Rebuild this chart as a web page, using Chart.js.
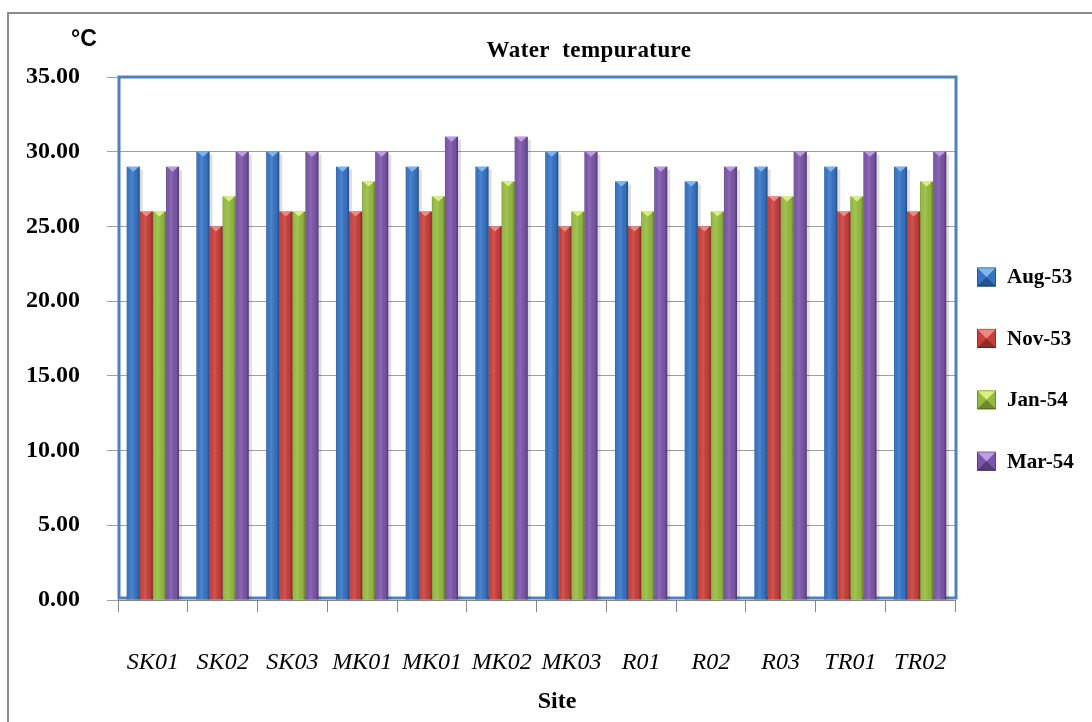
<!DOCTYPE html>
<html><head><meta charset="utf-8">
<script src="https://cdn.jsdelivr.net/npm/chart.js@4/dist/chart.umd.min.js"></script>
<style>html,body{margin:0;padding:0;background:#fff;overflow:hidden}#wrap{width:1092px;height:722px;position:relative}</style>
</head><body><div id="wrap"><canvas id="c" width="1092" height="722"></canvas></div>
<script>
// ---- data ----
const sites = ['SK01','SK02','SK03','MK01','MK01','MK02','MK03','R01','R02','R03','TR01','TR02'];
const seriesNames = ['Aug-53','Nov-53','Jan-54','Mar-54'];
const aug53 = [29,30,30,29,29,29,30,28,28,29,29,29];
const nov53 = [26,25,26,26,26,25,25,25,25,27,26,26];
const jan54 = [26,27,26,28,27,28,26,26,26,27,27,28];
const mar54 = [29,30,30,30,31,31,30,29,29,30,30,30];
const yMin = 0, yMax = 35, yStep = 5;
const chartTitle = 'Water  tempurature';
const yUnit = '°C';
const xTitle = 'Site';

// ---- styles ----
const serif = '"Liberation Serif","Times New Roman",serif';
const baseColors = ['#3673C3','#C73F3A','#95BB3F','#7B55A7'];
const capColors  = ['#7DB6F2','#F08780','#D9F07E','#BC9DE6'];
const darkColors = ['#24528F','#8E2A27','#6C8A2B','#563B7A'];
const seriesValues = [aug53, nov53, jan54, mar54];

const decor = {
  id: 'decor',
  beforeDraw(chart) {
    const ctx = chart.ctx;
    ctx.save();
    ctx.fillStyle = '#fff';
    ctx.fillRect(0, 0, chart.width, chart.height);
    ctx.strokeStyle = '#8c8c8c';
    ctx.lineWidth = 2;
    ctx.beginPath();
    ctx.moveTo(8, chart.height); ctx.lineTo(8, 13); ctx.lineTo(chart.width, 13);
    ctx.stroke();
    ctx.restore();
  },
  beforeDatasetsDraw(chart) {
    const a = chart.chartArea, ctx = chart.ctx;
    ctx.save();
    ctx.strokeStyle = '#4F81BD';
    ctx.lineWidth = 3;
    ctx.strokeRect(a.left + 1, a.top, a.right - a.left, a.bottom - a.top - 2);
    chart.data.datasets.forEach((ds, i) => {
      chart.getDatasetMeta(i).data.forEach(b => {
        const r = b.x + b.width / 2;
        ctx.fillStyle = 'rgba(0,0,0,0.13)';
        ctx.fillRect(r, b.y + 3, 3, b.base - b.y - 3);
      });
    });
    ctx.restore();
  },
  afterDatasetsDraw(chart) {
    const ctx = chart.ctx;
    ctx.save();
    chart.data.datasets.forEach((ds, i) => {
      chart.getDatasetMeta(i).data.forEach(b => {
        const w = b.width, l = b.x - w / 2, r = b.x + w / 2, t = b.y, bot = b.base;
        const g = ctx.createLinearGradient(l, 0, r, 0);
        g.addColorStop(0, 'rgba(0,0,0,0.25)');
        g.addColorStop(0.15, 'rgba(255,255,255,0.0)');
        g.addColorStop(0.4, 'rgba(255,255,255,0.12)');
        g.addColorStop(0.8, 'rgba(0,0,0,0.04)');
        g.addColorStop(1, 'rgba(0,0,0,0.35)');
        ctx.fillStyle = g;
        ctx.fillRect(l, t, w, bot - t);
        ctx.fillStyle = capColors[i];
        ctx.beginPath();
        ctx.moveTo(l + 1, t); ctx.lineTo(r - 1, t); ctx.lineTo(b.x, t + 5);
        ctx.closePath(); ctx.fill();
      });
    });
    ctx.restore();
  },
  afterDraw(chart) {
    const ctx = chart.ctx;
    ctx.save();
    ctx.fillStyle = '#000';
    ctx.font = 'bold 23px "Liberation Sans", Arial, sans-serif';
    ctx.textAlign = 'center'; ctx.textBaseline = 'alphabetic';
    ctx.fillText(yUnit, 84, 46);
    ctx.font = 'bold 23px ' + serif;
    try { ctx.letterSpacing = '0.4px'; } catch (e) {}
    ctx.fillText(chartTitle, 589, 57);
    try { ctx.letterSpacing = '0px'; } catch (e) {}
    ctx.font = 'bold 24px ' + serif;
    ctx.fillText(xTitle, 557, 708);
    ctx.font = 'bold 21px ' + serif;
    ctx.textAlign = 'left'; ctx.textBaseline = 'middle';
    chart.data.datasets.forEach((ds, i) => {
      const cy = 277 + i * 61.4, x0 = 977, s = 19, y0 = cy - s / 2;
      ctx.fillStyle = baseColors[i]; ctx.fillRect(x0, y0, s, s);
      ctx.fillStyle = capColors[i];
      ctx.beginPath(); ctx.moveTo(x0, y0); ctx.lineTo(x0 + s, y0); ctx.lineTo(x0 + s / 2, y0 + s / 2); ctx.closePath(); ctx.fill();
      ctx.fillStyle = darkColors[i];
      ctx.beginPath(); ctx.moveTo(x0, y0 + s); ctx.lineTo(x0 + s, y0 + s); ctx.lineTo(x0 + s / 2, y0 + s / 2); ctx.closePath(); ctx.fill();
      ctx.strokeStyle = 'rgba(0,0,0,0.25)'; ctx.lineWidth = 1;
      ctx.strokeRect(x0 + 0.5, y0 + 0.5, s - 1, s - 1);
      ctx.fillStyle = '#000';
      ctx.fillText(ds.label, 1007, cy + 1);
    });
    ctx.restore();
  }
};

const datasets = seriesNames.map((name, i) => ({
  label: name,
  data: seriesValues[i],
  backgroundColor: baseColors[i],
  borderWidth: 0,
  categoryPercentage: 0.75,
  barPercentage: 1.0
}));

Chart.defaults.color = '#000';
new Chart(document.getElementById('c'), {
  type: 'bar',
  data: { labels: sites, datasets },
  options: {
    responsive: false,
    animation: false,
    devicePixelRatio: 1,
    layout: { padding: { top: 77, right: 137, left: 0, bottom: 0 } },
    plugins: { legend: { display: false }, title: { display: false }, tooltip: { enabled: false } },
    scales: {
      x: {
        afterFit(s) { s.height = 122; },
        grid: { drawOnChartArea: false, drawTicks: true, tickLength: 12, color: '#868686', offset: true },
        border: { display: true, color: '#868686' },
        ticks: { autoSkip: false, maxRotation: 0, padding: 36, color: '#000',
                 font: { family: serif, size: 24, style: 'italic' } }
      },
      y: {
        min: yMin, max: yMax,
        afterFit(s) { s.width = 118; },
        grid: { color: '#a0a0a0', tickLength: 11, drawTicks: true },
        border: { display: true, color: '#868686' },
        ticks: { stepSize: yStep, padding: 27, color: '#000',
                 font: { family: serif, size: 24, weight: 'bold' },
                 callback: v => Number(v).toFixed(2) }
      }
    }
  },
  plugins: [decor]
});
</script></body></html>
